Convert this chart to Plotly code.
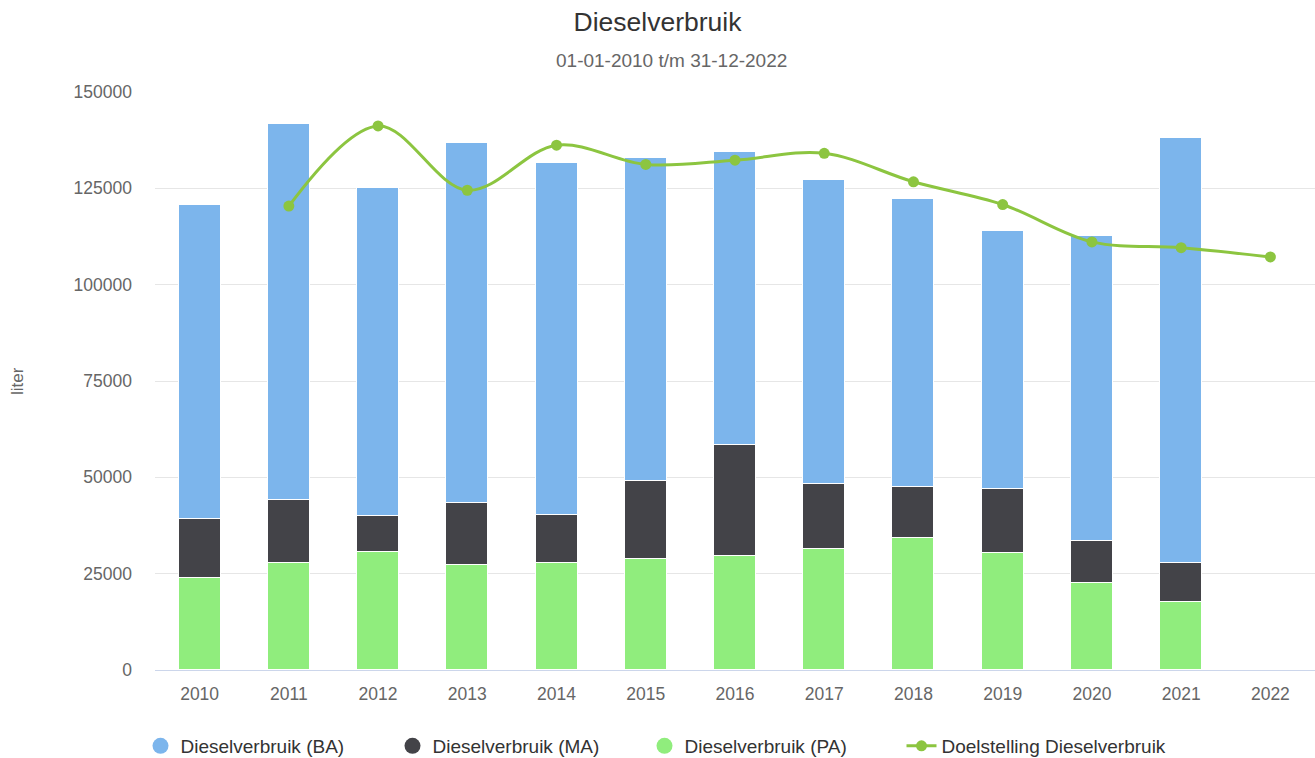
import plotly.graph_objects as go

years = [2010, 2011, 2012, 2013, 2014, 2015, 2016, 2017, 2018, 2019, 2020, 2021, 2022]
ba = [81500, 97500, 85000, 93400, 91400, 83800, 76200, 78700, 74700, 66800, 79000, 110200, None]
ma = [15200, 16500, 9500, 16000, 12600, 20100, 28600, 16900, 13200, 16700, 11000, 10200, None]
pa = [23900, 27700, 30500, 27300, 27700, 28900, 29700, 31500, 34300, 30400, 22600, 17600, None]
doel = [None, 120400, 141200, 124500, 136200, 131200, 132300, 134100, 126700, 120800, 111100, 109600, 107200]

names = ["Dieselverbruik (BA)", "Dieselverbruik (MA)", "Dieselverbruik (PA)", "Doelstelling Dieselverbruik"]
c_ba, c_ma, c_pa, c_line = "#7cb5ec", "#434348", "#90ed7d", "#8cc540"

FONT = "Liberation Sans, Arial, sans-serif"

fig = go.Figure()
for vals, name, col in [(pa, names[2], c_pa), (ma, names[1], c_ma), (ba, names[0], c_ba)]:
    fig.add_trace(go.Bar(x=years, y=vals, name=name, marker=dict(color=col, line=dict(color="#ffffff", width=1)),
                         width=0.47, showlegend=False, legendgroup=name))

# legend entries with circle symbols
for name, col in [(names[0], c_ba), (names[1], c_ma), (names[2], c_pa)]:
    fig.add_trace(go.Scatter(x=[None], y=[None], mode="markers", name=name, legendgroup=name,
                             marker=dict(symbol="circle", size=17, color=col), legend="legend"))

fig.add_trace(go.Scatter(x=years, y=doel, name=names[3], mode="lines+markers",
                         line=dict(color=c_line, width=3, shape="spline", smoothing=1.0),
                         marker=dict(color=c_line, size=11), legend="legend2"))

leg_common = dict(orientation="h", xref="container", xanchor="left",
                  y=1 - 746 / 758, yref="container", yanchor="middle",
                  font=dict(size=19, color="#333333"), itemsizing="trace", traceorder="normal",
                  itemwidth=30, bgcolor="rgba(0,0,0,0)")

fig.update_layout(
    width=1315, height=758,
    barmode="stack",
    plot_bgcolor="#ffffff", paper_bgcolor="#ffffff",
    margin=dict(l=155, r=0, t=92, b=88),
    font=dict(family=FONT, color="#666666", size=17.5),
    title=dict(text="Dieselverbruik", x=0.5, xref="container", xanchor="center",
               y=1 - 22 / 758, yref="container", yanchor="middle",
               font=dict(size=26.5, color="#333333", family=FONT)),
    legend=dict(**leg_common, x=140.5 / 1315, entrywidth=207, entrywidthmode="pixels"),
    legend2=dict(**leg_common, x=901.5 / 1315),
    showlegend=True,
    bargap=0,
)

fig.add_annotation(text="01-01-2010 t/m 31-12-2022", xref="paper", yref="paper",
                   x=(671 - 155) / 1160, y=(669.5 - 61) / 577.5, showarrow=False,
                   font=dict(size=19, color="#666666"), xanchor="center", yanchor="middle")
fig.add_annotation(text="liter", xref="paper", yref="paper", x=(17 - 155) / 1160, y=0.5,
                   textangle=-90, showarrow=False, font=dict(size=17, color="#666666"),
                   xanchor="center", yanchor="middle")

fig.update_xaxes(range=[2009.5, 2022.5], tickmode="array", tickvals=years,
                 ticktext=[str(y) for y in years], showgrid=False, showline=True,
                 linecolor="#ccd6eb", linewidth=1, ticks="", ticklabelstandoff=8,
                 zeroline=False)
fig.update_yaxes(range=[0, 150000], tickmode="array", tickvals=[0, 25000, 50000, 75000, 100000, 125000, 150000],
                 ticktext=["0", "25000", "50000", "75000", "100000", "125000", "150000"],
                 showgrid=True, gridcolor="#e6e6e6", gridwidth=1, showline=False, zeroline=False,
                 ticks="", ticklabelstandoff=22)

fig.write_html("out.html", config={"displayModeBar": False},
               post_script="document.body.style.margin='0';document.body.style.overflow='hidden';")
